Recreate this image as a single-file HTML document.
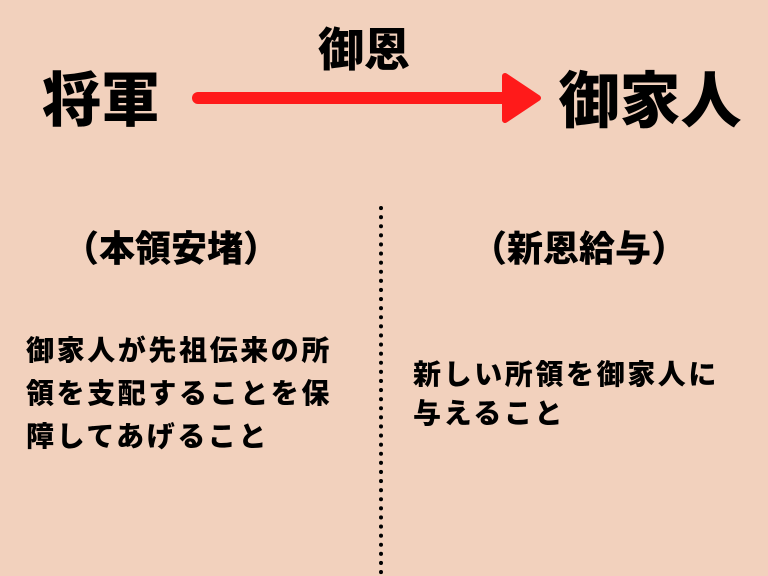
<!DOCTYPE html>
<html><head><meta charset="utf-8"><style>
html,body{margin:0;padding:0;background:#f2d1bd;}
svg{display:block}
text{font-family:"Liberation Sans","Noto Sans CJK JP",sans-serif;font-weight:900;fill:#000;}
</style></head><body>
<svg width="768" height="576" viewBox="0 0 768 576" xmlns="http://www.w3.org/2000/svg">
<rect width="768" height="576" fill="#f2d1bd"/>
<text x="364" y="66" font-size="46" text-anchor="middle">御恩</text>
<text x="101" y="121" font-size="59" text-anchor="middle">将軍</text>
<text x="650" y="122" font-size="61" text-anchor="middle">御家人</text>
<line x1="198" y1="98" x2="512" y2="98" stroke="#ff1a1a" stroke-width="12" stroke-linecap="round"/>
<polygon points="505,76 538,98 505,120" fill="#ff1a1a" stroke="#ff1a1a" stroke-width="6" stroke-linejoin="round"/>
<line x1="381" y1="208" x2="381" y2="576" stroke="#000" stroke-width="4" stroke-dasharray="0.1 9" stroke-linecap="round"/>
<text x="171" y="261" font-size="36" text-anchor="middle">（本領安堵）</text>
<text x="579" y="261" font-size="36" text-anchor="middle">（新恩給与）</text>
<g font-size="28" letter-spacing="2.6">
<text x="26" y="360">御家人が先祖伝来の所</text>
<text x="26" y="403">領を支配することを保</text>
<text x="26" y="446">障してあげること</text>
<text x="413" y="384">新しい所領を御家人に</text>
<text x="413" y="423">与えること</text>
</g>
</svg>
</body></html>
